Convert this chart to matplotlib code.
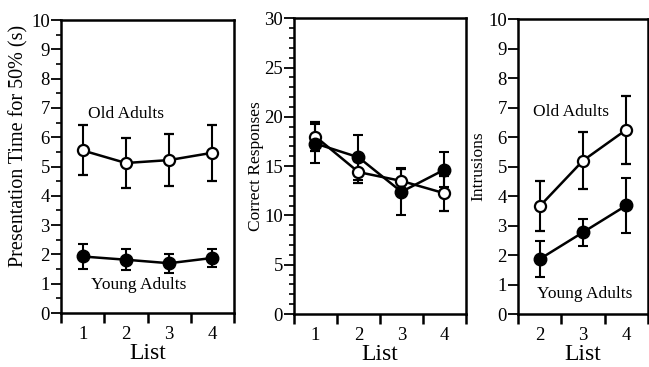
import matplotlib
matplotlib.use("Agg")
import matplotlib.pyplot as plt
from matplotlib.ticker import MultipleLocator, FixedLocator

plt.rcParams['font.family'] = ['Liberation Serif', 'DejaVu Serif']

# panel 1: presentation time for 50% correct
lists_a = [1, 2, 3, 4]
time_old = [5.55, 5.12, 5.22, 5.47]
time_old_err = [0.85, 0.84, 0.89, 0.96]
time_young = [1.93, 1.82, 1.70, 1.88]
time_young_err = [0.42, 0.35, 0.33, 0.30]

# panel 2: correct responses
resp_old = [18.0, 14.4, 13.5, 12.25]
resp_old_err = [1.5, 1.1, 1.2, 1.8]
resp_young = [17.3, 15.9, 12.4, 14.65]
resp_young_err = [2.0, 2.3, 2.4, 1.8]

# panel 3: intrusions
lists_c = [2, 3, 4]
intr_old = [3.65, 5.2, 6.25]
intr_old_err = [0.85, 0.97, 1.15]
intr_young = [1.86, 2.77, 3.68]
intr_young_err = [0.6, 0.45, 0.93]

fig = plt.figure(figsize=(6.49, 3.67), dpi=100)
ax1 = fig.add_axes([0.094, 0.147, 0.2666, 0.7985])
ax2 = fig.add_axes([0.453, 0.1444, 0.265, 0.8056])
ax3 = fig.add_axes([0.798, 0.1444, 0.2005, 0.8036])


def draw(ax, x, old, old_err, young, young_err):
    ax.errorbar(x, old, yerr=old_err, color='black', lw=1.8, marker='o',
                mfc='white', mec='black', mew=1.6, ms=8, capsize=3.5,
                elinewidth=1.5, capthick=1.5, zorder=3)
    ax.errorbar(x, young, yerr=young_err, color='black', lw=1.8, marker='o',
                mfc='black', mec='black', ms=9, capsize=3.5,
                elinewidth=1.5, capthick=1.5, zorder=3)


def style(ax, x, ymax, ymajor, yminor):
    ax.set_xlim(x[0] - 0.5, x[-1] + 0.5)
    ax.set_ylim(0, ymax)
    ax.xaxis.set_major_locator(FixedLocator(x))
    ax.xaxis.set_minor_locator(FixedLocator([v - 0.5 for v in x] + [x[-1] + 0.5]))
    ax.yaxis.set_major_locator(MultipleLocator(ymajor))
    ax.yaxis.set_minor_locator(MultipleLocator(yminor))
    ax.tick_params(axis='x', which='major', length=0, labelsize=13.5, pad=9)
    ax.tick_params(axis='x', which='minor', length=7, width=1.8, direction='out')
    ax.tick_params(axis='y', which='major', length=7, width=1.3, direction='out',
                   labelsize=13.5, pad=1)
    ax.tick_params(axis='y', which='minor', length=3.5, width=1.2, direction='out')
    for s in ax.spines.values():
        s.set_linewidth(1.8)
    ax.set_xlabel('List', fontsize=17, labelpad=0)


draw(ax1, lists_a, time_old, time_old_err, time_young, time_young_err)
style(ax1, lists_a, 10, 1, 0.5)
ax1.set_ylabel('Presentation Time for 50% (s)', fontsize=14.5, labelpad=0)
ax1.yaxis.set_label_coords(-0.19, 0.57)
ax1.text(2.0, 6.8, 'Old Adults', fontsize=12.5, ha='center', va='center')
ax1.text(2.3, 0.97, 'Young Adults', fontsize=12.5, ha='center', va='center')

draw(ax2, lists_a, resp_old, resp_old_err, resp_young, resp_young_err)
style(ax2, lists_a, 30, 5, 1)
ax2.set_ylabel('Correct Responses', fontsize=12.5, labelpad=0)

draw(ax3, lists_c, intr_old, intr_old_err, intr_young, intr_young_err)
style(ax3, lists_c, 10, 1, 0.5)
ax3.yaxis.set_minor_locator(FixedLocator([]))
ax3.set_ylabel('Intrusions', fontsize=12.5, labelpad=1)
ax3.text(2.73, 6.85, 'Old Adults', fontsize=12.5, ha='center', va='center')
ax3.text(3.05, 0.68, 'Young Adults', fontsize=12.5, ha='center', va='center')

fig.savefig('out.png', dpi=100)
